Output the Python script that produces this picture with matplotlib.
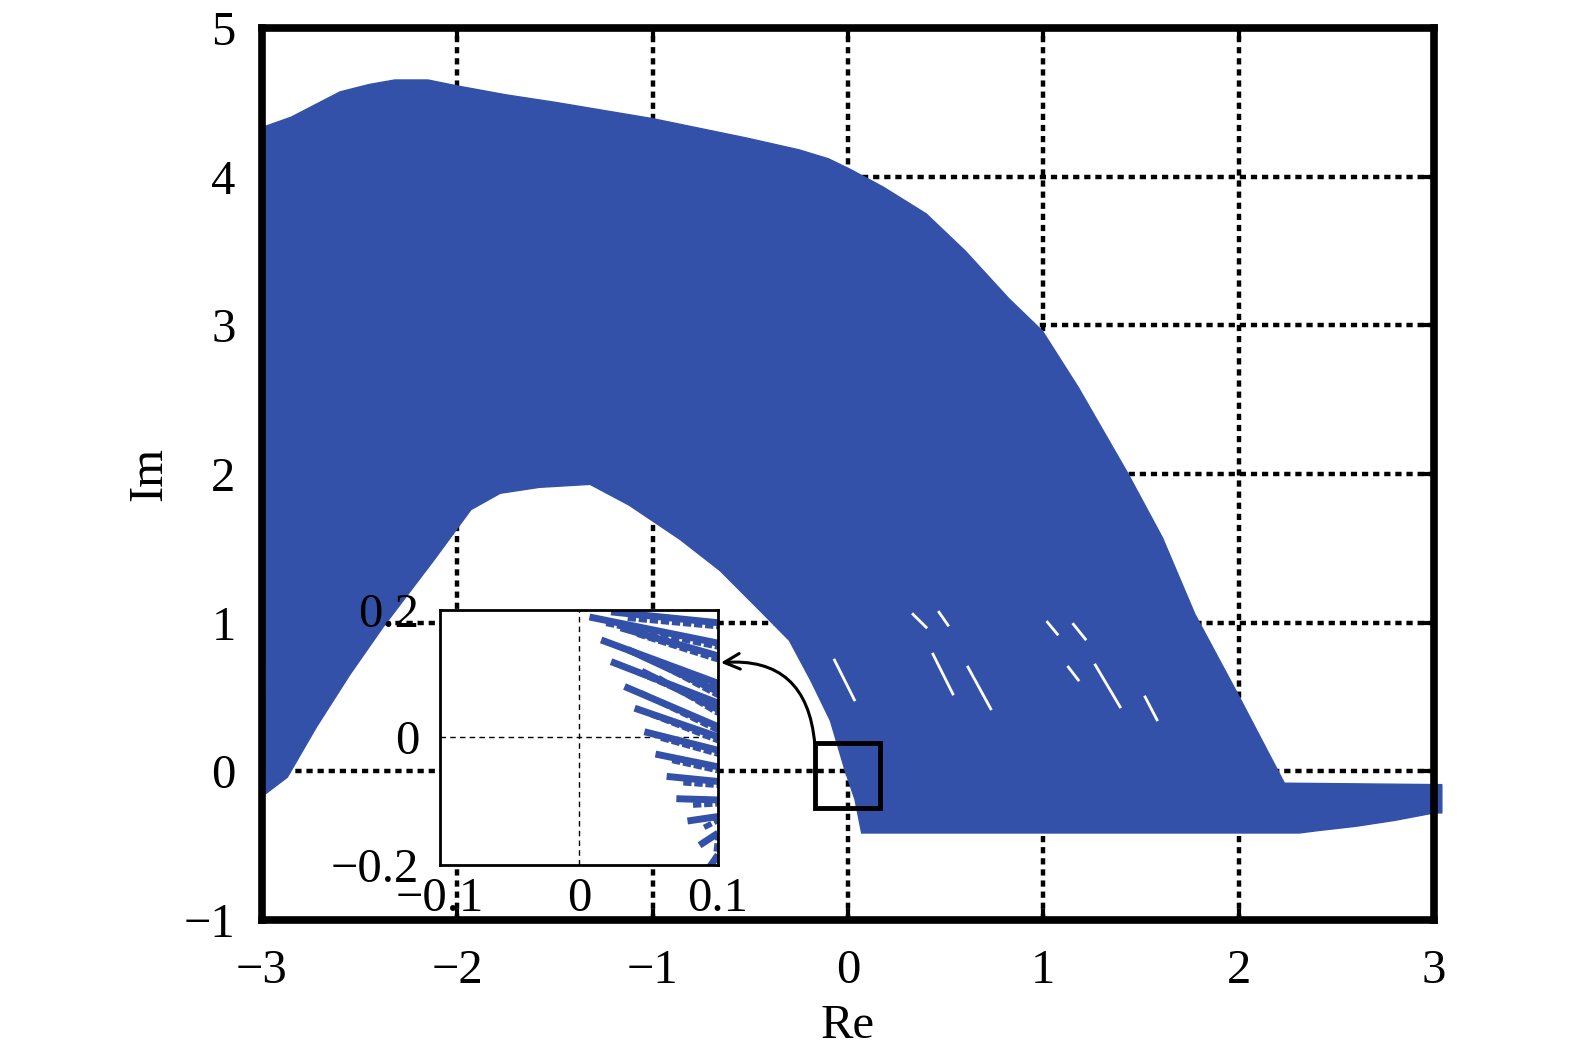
import numpy as np
import matplotlib
matplotlib.use("Agg")
import matplotlib.pyplot as plt
from matplotlib.patches import Polygon, Rectangle

plt.rcParams["font.family"] = ["Liberation Serif", "DejaVu Serif"]
plt.rcParams["axes.unicode_minus"] = True

BLUE = "#3451a9"

# outer (top) boundary of the eigenvalue cloud, left to right
top_x = [-3.0, -2.85, -2.6, -2.45, -2.32, -2.15, -2.0, -1.75, -1.5, -1.0,
         -0.52, -0.25, -0.1, 0.01, 0.18, 0.4, 0.6, 0.823, 0.996, 1.18, 1.434,
         1.61, 1.776, 1.995, 2.234]
top_y = [4.33, 4.4, 4.57, 4.62, 4.65, 4.65, 4.61, 4.55, 4.5, 4.39,
         4.26, 4.18, 4.12, 4.05, 3.93, 3.75, 3.5, 3.18, 2.96, 2.58, 2.0,
         1.57, 1.056, 0.52, -0.08]

# flat band on the right and lower edge, right to left
band_x = [3.04, 3.04, 3.0, 2.8, 2.6, 2.4, 2.31, 0.07]
band_y = [-0.09, -0.28, -0.28, -0.33, -0.37, -0.40, -0.415, -0.415]

# inner boundary (edge of the white hole), right to left
inner_x = [0.036, -0.015, -0.09, -0.19, -0.3, -0.45, -0.655, -0.86, -1.12,
           -1.32, -1.58, -1.78, -1.93, -2.12, -2.38, -2.55, -2.72, -2.87, -2.98]
inner_y = [-0.19, 0.006, 0.34, 0.61, 0.88, 1.08, 1.35, 1.56, 1.79,
           1.93, 1.91, 1.87, 1.76, 1.42, 0.97, 0.65, 0.3, -0.04, -0.15]

# small white gaps inside the cloud: (x0, y0, x1, y1)
gaps = [(-0.069, 0.748, 0.033, 0.48), (0.435, 0.788, 0.537, 0.52),
        (0.614, 0.701, 0.731, 0.42), (1.128, 0.701, 1.179, 0.614),
        (1.266, 0.715, 1.393, 0.433), (1.521, 0.5, 1.582, 0.346),
        (0.333, 1.056, 0.4, 0.969), (0.466, 1.07, 0.512, 0.983),
        (1.021, 1.003, 1.072, 0.922), (1.154, 0.989, 1.215, 0.889)]

# zoomed streaks near the origin: start x, start y, y at x = 0.1
streak_x0 = [0.023, 0.0075, 0.03, 0.0159, 0.035, 0.023, 0.045, 0.0327,
             0.04, 0.047, 0.055, 0.063, 0.07, 0.078, 0.0867, 0.094]
streak_y0 = [0.197, 0.189, 0.172, 0.153, 0.138, 0.119, 0.104, 0.08,
             0.046, 0.009, -0.026, -0.061, -0.096, -0.131, -0.169, -0.203]
streak_y1 = [0.18, 0.148, 0.128, 0.085, 0.072, 0.054, 0.044, 0.017,
             0.001, -0.02, -0.046, -0.069, -0.098, -0.124, -0.15, -0.184]

xticks = [-3, -2, -1, 0, 1, 2, 3]
yticks = [-1, 0, 1, 2, 3, 4, 5]

fig = plt.figure(figsize=(15.75, 10.59), dpi=100)
ax = fig.add_axes([0.1663, 0.1313, 0.7442, 0.8423])

ax.set_xlim(-3, 3)
ax.set_ylim(-1, 5)
ax.set_xticks(xticks)
ax.set_yticks(yticks)
ax.set_axisbelow(True)
ax.grid(True, color="black", linestyle=(0, (1.4, 1.1)), linewidth=3.2)
ax.tick_params(direction="in", length=8, width=3, top=True, right=True,
               labelsize=35)
ax.tick_params(axis="x", pad=21)
ax.tick_params(axis="y", pad=19)
for s in ax.spines.values():
    s.set_linewidth(5.5)
    s.set_zorder(5)
ax.set_xlabel("Re", fontsize=35, labelpad=8)
ax.set_ylabel("Im", fontsize=35, labelpad=9)

pts = list(zip(top_x, top_y)) + list(zip(band_x, band_y)) + list(zip(inner_x, inner_y))
ax.add_patch(Polygon(pts, closed=True, facecolor=BLUE, edgecolor=BLUE,
                     linewidth=1, zorder=2, clip_on=False))
for x0, y0, x1, y1 in gaps:
    ax.plot([x0, x1], [y0, y1], color="white", linewidth=2, zorder=3)

ax.add_patch(Rectangle((-0.17, -0.25), 0.335, 0.44, fill=False,
                       edgecolor="black", linewidth=3.5, zorder=6))

# inset
ins = fig.add_axes([0.2794, 0.1832, 0.1765, 0.2408])
ins.set_xlim(-0.1, 0.1)
ins.set_ylim(-0.2, 0.2)
ins.set_xticks([-0.1, 0, 0.1])
ins.set_yticks([-0.2, 0, 0.2])
ins.set_xticklabels(["\u22120.1", "0", "0.1"])
ins.set_yticklabels(["\u22120.2", "0", "0.2"])
ins.tick_params(length=0, labelsize=35)
ins.tick_params(axis="x", pad=9)
ins.tick_params(axis="y", pad=15)
for s in ins.spines.values():
    s.set_linewidth(2)
ins.axhline(0, color="black", linestyle=(0, (4, 3)), linewidth=1)
ins.axvline(0, color="black", linestyle=(0, (4, 3)), linewidth=1)
for x0, y0, y1 in zip(streak_x0, streak_y0, streak_y1):
    ins.plot([x0, 0.1], [y0, y1], color=BLUE, linewidth=5,
             solid_capstyle="butt")
    ins.plot([x0 + 0.012, 0.1], [y0 - 0.01, y1 - 0.006], color=BLUE,
             linewidth=4, linestyle=(0, (1.5, 0.5)))

ins.annotate("", xy=(0.1, 0.117), xycoords=ins.transData,
             xytext=(-0.17, 0.185), textcoords=ax.transData,
             arrowprops=dict(arrowstyle="->", color="black", lw=2.2,
                             connectionstyle="arc3,rad=0.5",
                             shrinkA=0, shrinkB=2, mutation_scale=28),
             annotation_clip=False)

fig.savefig("out.png", dpi=100)
